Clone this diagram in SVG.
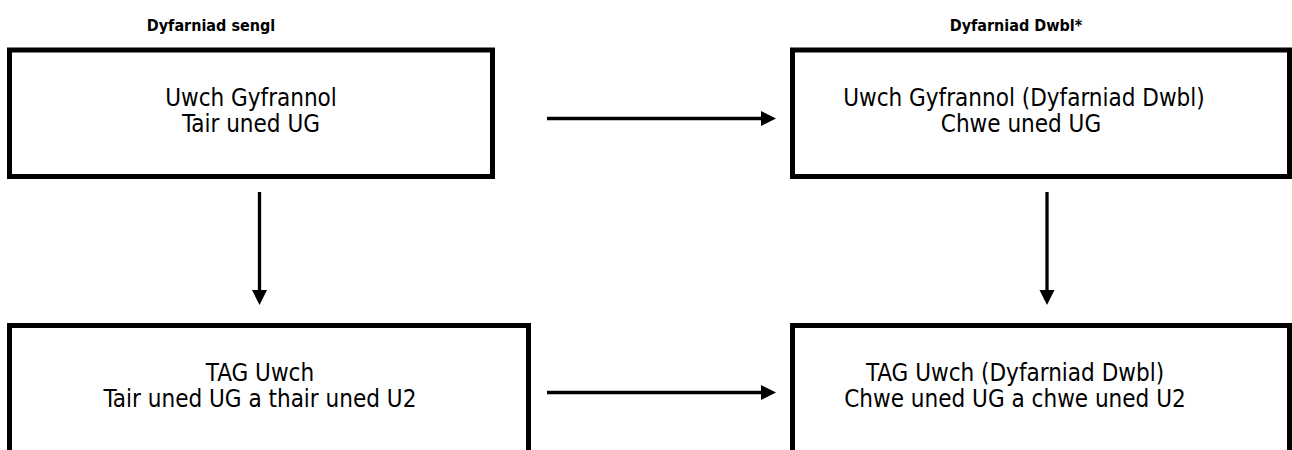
<svg xmlns="http://www.w3.org/2000/svg" width="1292" height="450" viewBox="0 0 1292 450">
<style>
.box{fill:#fff;stroke:#000;stroke-width:5}
.t{font-family:"DejaVu Sans Condensed","DejaVu Sans","Liberation Sans",sans-serif;font-stretch:condensed;font-size:24px;fill:#000;text-anchor:middle}
.h{font-family:"DejaVu Sans Condensed","DejaVu Sans","Liberation Sans",sans-serif;font-stretch:condensed;font-size:16px;font-weight:bold;fill:#000;text-anchor:middle}
.c{stroke:#000;stroke-width:3.3;fill:none}
</style>
<defs>
<marker id="ah" markerUnits="userSpaceOnUse" markerWidth="16" markerHeight="16" viewBox="0 0 16 16" refX="1" refY="8" orient="auto">
<path d="M0,0.5 L15,8 L0,15.5 Z" fill="#000"/>
</marker>
</defs>
<rect width="1292" height="450" fill="#fff"/>
<g id="header-single"><text class="h" x="211" y="31">Dyfarniad sengl</text></g>
<g id="header-double"><text class="h" x="1016" y="31">Dyfarniad Dwbl*</text></g>
<g id="node-as-single">
<rect class="box" x="9.5" y="50" width="483" height="126.5"/>
<text class="t" x="251" y="106">Uwch Gyfrannol</text>
<text class="t" x="251" y="132">Tair uned UG</text>
</g>
<g id="node-as-double">
<rect class="box" x="792.5" y="50" width="497" height="126.5"/>
<text class="t" x="1024" y="106">Uwch Gyfrannol (Dyfarniad Dwbl)</text>
<text class="t" x="1021" y="132">Chwe uned UG</text>
</g>
<g id="node-a-single">
<rect class="box" x="9.5" y="325.5" width="519" height="200"/>
<text class="t" x="260" y="381">TAG Uwch</text>
<text class="t" x="260" y="407">Tair uned UG a thair uned U2</text>
</g>
<g id="node-a-double">
<rect class="box" x="792.5" y="325.5" width="497" height="200"/>
<text class="t" x="1015" y="381">TAG Uwch (Dyfarniad Dwbl)</text>
<text class="t" x="1015" y="407">Chwe uned UG a chwe uned U2</text>
</g>
<g id="connectors">
<line class="c" x1="547" y1="118.5" x2="762" y2="118.5" marker-end="url(#ah)"/>
<line class="c" x1="547" y1="392.5" x2="762" y2="392.5" marker-end="url(#ah)"/>
<line class="c" x1="259.5" y1="192" x2="259.5" y2="291" marker-end="url(#ah)"/>
<line class="c" x1="1047" y1="192" x2="1047" y2="291" marker-end="url(#ah)"/>
</g>
</svg>
